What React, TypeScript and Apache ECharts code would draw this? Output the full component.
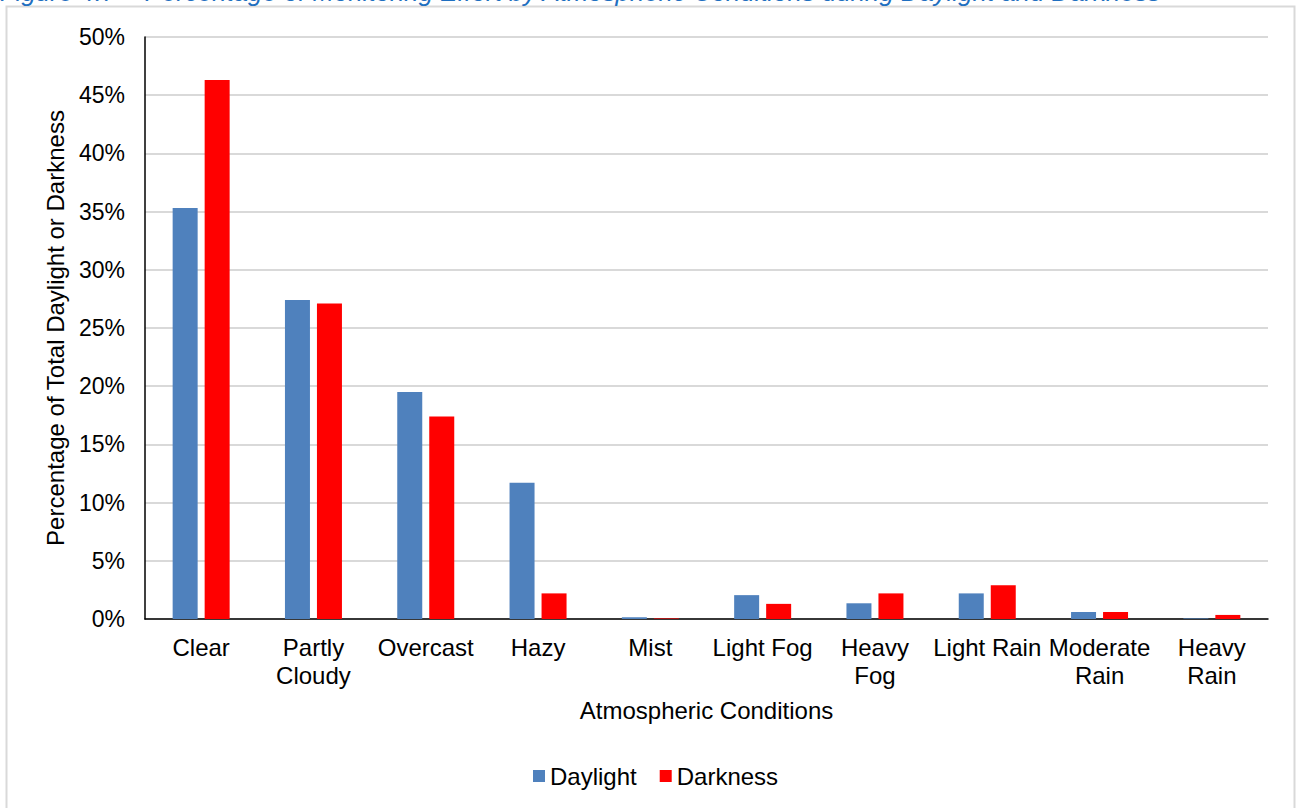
import React, { useEffect, useRef } from "react";
import * as echarts from "echarts";

const categories = [
  "Clear",
  "Partly\nCloudy",
  "Overcast",
  "Hazy",
  "Mist",
  "Light Fog",
  "Heavy\nFog",
  "Light Rain",
  "Moderate\nRain",
  "Heavy\nRain",
];
const daylight = [35.3, 27.4, 19.5, 11.7, 0.15, 2.05, 1.35, 2.2, 0.6, 0.05];
const darkness = [46.3, 27.1, 17.4, 2.2, 0.05, 1.3, 2.2, 2.9, 0.6, 0.35];
const yTicks = [0, 5, 10, 15, 20, 25, 30, 35, 40, 45, 50];
const titleText =
  "Figure 4.7 \u2013 Percentage of Monitoring Effort by Atmospheric Conditions during Daylight and Darkness";

const FONT = "'Liberation Sans', Arial, sans-serif";

export default function App() {
  const ref = useRef<HTMLDivElement>(null);
  useEffect(() => {
    if (!ref.current) return;
    const chart = echarts.init(ref.current, null, { renderer: "svg" });
    chart.setOption({
      animation: false,
      backgroundColor: "#ffffff",
      textStyle: { fontFamily: FONT },
      graphic: [
        {
          type: "rect",
          shape: { x: 6.5, y: 6.5, width: 1288, height: 830 },
          style: { fill: "none", stroke: "#d9d9d9", lineWidth: 2 },
          silent: true,
        },
        {
          type: "text",
          left: 0,
          top: -21,
          style: {
            text: titleText,
            fontFamily: FONT,
            fontSize: 25.8,
            fontStyle: "italic",
            fill: "#1f6fc0",
          },
          silent: true,
        },
      ],
      grid: { left: 145, right: 29, top: 37, bottom: 189, containLabel: false },
      legend: {
        bottom: 15,
        left: 528,
        itemWidth: 12,
        itemHeight: 12,
        itemGap: 23,
        icon: "rect",
        textStyle: { fontSize: 24, color: "#000", fontFamily: FONT },
        data: ["Daylight", "Darkness"],
      },
      xAxis: {
        type: "category",
        data: categories,
        name: "Atmospheric Conditions",
        nameLocation: "middle",
        nameGap: 79,
        nameTextStyle: { fontSize: 24, color: "#000", fontFamily: FONT },
        axisLine: { lineStyle: { color: "#000", width: 1.5 } },
        axisTick: { show: false },
        axisLabel: {
          fontSize: 24,
          color: "#000",
          lineHeight: 28,
          margin: 14,
          interval: 0,
          fontFamily: FONT,
        },
      },
      yAxis: {
        type: "value",
        min: yTicks[0],
        max: yTicks[yTicks.length - 1],
        interval: 5,
        name: "Percentage of Total Daylight or Darkness",
        nameLocation: "middle",
        nameGap: 78,
        nameTextStyle: { fontSize: 24, color: "#000", fontFamily: FONT },
        axisLine: { show: true, lineStyle: { color: "#000", width: 1.5 } },
        axisTick: { show: false },
        axisLabel: {
          fontSize: 23,
          color: "#000",
          margin: 20,
          fontFamily: FONT,
          formatter: (v: number) => `${v}%`,
        },
        splitLine: { lineStyle: { color: "#d9d9d9", width: 2 } },
      },
      series: [
        {
          name: "Daylight",
          type: "bar",
          data: daylight,
          barWidth: 25,
          barGap: "28%",
          itemStyle: { color: "#4f81bd" },
        },
        {
          name: "Darkness",
          type: "bar",
          data: darkness,
          barWidth: 25,
          itemStyle: { color: "#ff0000" },
        },
      ],
    });
    return () => chart.dispose();
  }, []);
  return (
    <div
      ref={ref}
      style={{ position: "fixed", left: 0, top: 0, width: 1297, height: 808 }}
    />
  );
}
